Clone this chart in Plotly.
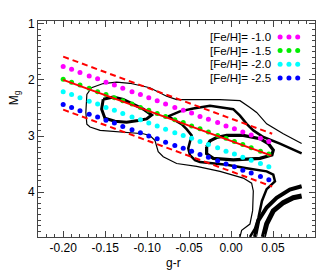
import plotly.graph_objects as go

# ---- data ----
GR_DOTS = [-0.200, -0.190, -0.180, -0.169, -0.159, -0.149, -0.139, -0.129, -0.118, -0.108,
           -0.098, -0.088, -0.078, -0.067, -0.057, -0.047, -0.037, -0.027, -0.016, -0.006,
           0.004, 0.014, 0.024, 0.035, 0.045]
MG_FEH_10 = [1.76, 1.81, 1.87, 1.93, 1.98, 2.04, 2.09, 2.15, 2.21, 2.26, 2.32, 2.37, 2.43,
             2.49, 2.54, 2.59, 2.65, 2.70, 2.76, 2.82, 2.87, 2.93, 2.98, 3.04, 3.10]
MG_FEH_15 = [1.99, 2.04, 2.09, 2.15, 2.21, 2.26, 2.32, 2.37, 2.43, 2.49, 2.54, 2.60, 2.65,
             2.71, 2.76, 2.82, 2.87, 2.93, 2.99, 3.04, 3.10, 3.15, 3.21, 3.27, 3.32]
MG_FEH_20 = [2.21, 2.26, 2.32, 2.38, 2.43, 2.49, 2.54, 2.60, 2.66, 2.71, 2.77, 2.82, 2.88,
             2.94, 2.99, 3.04, 3.10, 3.15, 3.21, 3.27, 3.32, 3.38, 3.43, 3.49, 3.55]
MG_FEH_25 = [2.44, 2.49, 2.55, 2.61, 2.66, 2.72, 2.77, 2.83, 2.89, 2.94, 3.00, 3.05, 3.11,
             3.17, 3.22, 3.27, 3.33, 3.38, 3.44, 3.50, 3.55, 3.61, 3.66, 3.72, 3.78]
SERIES_LABELS = ["[Fe/H]= -1.0", "[Fe/H]= -1.5", "[Fe/H]= -2.0", "[Fe/H]= -2.5"]

FIT_X = [-0.200, 0.048]
FIT_Y = [2.00, 3.35]
FIT_UP_X = [-0.200, 0.049]
FIT_UP_Y = [1.585, 2.96]
FIT_LO_X = [-0.200, 0.049]
FIT_LO_Y = [2.53, 3.90]

# contour lines (g-r, M_g)
C_OUTER_X = [0.0841, 0.0622, 0.0424, 0.0305, 0.0225, 0.0106, -0.0133, -0.041, -0.0648, -0.0768,
             -0.0967, -0.1205, -0.1364, -0.1523, -0.1662, -0.1718, -0.173, -0.1718, -0.168, -0.156,
             -0.1285, -0.1046, -0.0967, -0.0907, -0.0868, -0.0808, -0.0648, -0.041, -0.0132, 0.0145,
             0.0245, 0.0265, 0.0257, 0.0225, 0.0126, 0.0106]
C_OUTER_Y = [3.135, 2.96, 2.784, 2.58, 2.49, 2.37, 2.35, 2.35, 2.35, 2.29,
             2.14, 2.06, 2.04, 2.065, 2.14, 2.26, 2.58, 2.79, 2.84, 2.90,
             2.93, 2.96, 2.99, 3.075, 3.28, 3.37, 3.49, 3.54, 3.63, 3.75,
             3.84, 3.98, 4.33, 4.57, 4.68, 4.80]
C_MID_X = [0.0841, 0.0582, 0.0384, 0.0265, 0.0186, 0.0106, 0.0026, -0.0251, -0.045, -0.0609,
           -0.0749, -0.0669, -0.0589, -0.053, -0.047, -0.049, -0.051, -0.049, -0.043, -0.037,
           -0.0052, 0.0186, 0.0424, 0.0503, 0.0523, 0.0424, 0.0368, 0.0327, 0.0285, 0.0225]
C_MID_Y = [3.31, 3.135, 3.018, 2.90, 2.784, 2.637, 2.521, 2.461, 2.509, 2.561,
           2.649, 2.72, 2.79, 2.877, 2.988, 3.105, 3.22, 3.34, 3.43, 3.465,
           3.514, 3.574, 3.63, 3.69, 3.807, 3.947, 4.158, 4.45, 4.65, 4.80]
C_LOOP1_X = [-0.1523, -0.1404, -0.1285, -0.1166, -0.1046, -0.0946, -0.1006, -0.1106, -0.1244,
             -0.1384, -0.1503, -0.1542, -0.1523]
C_LOOP1_Y = [2.346, 2.304, 2.346, 2.433, 2.521, 2.626, 2.696, 2.725, 2.754, 2.737, 2.684, 2.521, 2.346]
C_LOOP2_X = [-0.0291, -0.0251, -0.0172, -0.0052, 0.0145, 0.0344, 0.0443, 0.0503, 0.0487, 0.0344,
             0.0026, -0.0212, -0.0291, -0.0291]
C_LOOP2_Y = [3.193, 3.088, 3.026, 2.988, 2.988, 3.047, 3.135, 3.251, 3.339, 3.398,
             3.426, 3.398, 3.316, 3.193]
C_MS1_X = [0.0285, 0.0324, 0.0424, 0.0543, 0.070, 0.0841]
C_MS1_Y = [4.80, 4.51, 4.275, 4.10, 3.953, 3.895]
C_MS2_X = [0.0384, 0.0424, 0.0503, 0.0622, 0.0741, 0.0841]
C_MS2_Y = [4.80, 4.567, 4.333, 4.188, 4.10, 4.07]

COLORS = ["#ff00ff", "#00ee00", "#00ffff", "#0000ff"]
FONT = dict(family="Liberation Sans, Arial", size=12, color="black")
LEG_FONT = dict(family="Liberation Sans, Arial", size=11.5, color="black")

fig = go.Figure()

def line(x, y, w, color="black", dash="solid"):
    fig.add_trace(go.Scatter(x=x, y=y, mode="lines", line=dict(color=color, width=w, dash=dash),
                             showlegend=False, hoverinfo="skip"))

line(C_OUTER_X, C_OUTER_Y, 1.2)
line(C_MID_X, C_MID_Y, 2.5)
line(C_LOOP1_X, C_LOOP1_Y, 3)
line(C_LOOP2_X, C_LOOP2_Y, 3.2)
line(C_MS1_X, C_MS1_Y, 4)
line(C_MS2_X, C_MS2_Y, 5)

for ys, c in zip([MG_FEH_10, MG_FEH_15, MG_FEH_20, MG_FEH_25], COLORS):
    fig.add_trace(go.Scatter(x=GR_DOTS, y=ys, mode="markers",
                             marker=dict(color=c, size=5, line=dict(width=0)), showlegend=False))

line(FIT_X, FIT_Y, 2, "#ff0000")
line(FIT_UP_X, FIT_UP_Y, 2, "#ff0000", "6px,4px")
line(FIT_LO_X, FIT_LO_Y, 2, "#ff0000", "6px,4px")

# custom legend (text left, three dots right)
LEG_Y = [0.926, 0.863, 0.800, 0.736]
LEG_DOT_X = [0.874, 0.906, 0.9375]
for lab, c, ly in zip(SERIES_LABELS, COLORS, LEG_Y):
    fig.add_annotation(xref="paper", yref="paper", x=0.850, y=ly, text=lab, showarrow=False,
                       xanchor="right", yanchor="middle", font=LEG_FONT)
    fig.add_trace(go.Scatter(x=LEG_DOT_X, y=[ly] * 3, xaxis="x2", yaxis="y2", mode="markers",
                             marker=dict(color=c, size=5, line=dict(width=0)), showlegend=False))

fig.add_annotation(xref="paper", yref="paper", x=0.49, y=-0.12, text="g-r", showarrow=False,
                   xanchor="center", yanchor="middle", font=FONT)
fig.add_annotation(xref="paper", yref="paper", x=-0.085, y=0.645, text="M<sub>g</sub>",
                   showarrow=False, textangle=-90, xanchor="center", yanchor="middle", font=FONT)

axis_common = dict(showline=True, linecolor="#444", linewidth=1, mirror="allticks",
                   ticks="inside", ticklen=6, tickcolor="#444", tickwidth=1,
                   showgrid=False, zeroline=False, tickfont=FONT)

# the page body adds an 8px offset; the figure is sized so the plot box lands where the
# reference puts it inside the 327x273 window
fig.update_layout(
    width=319, height=265,
    margin=dict(l=30, r=12, t=9, b=36),
    paper_bgcolor="white", plot_bgcolor="white",
    xaxis=dict(range=[-0.23, 0.10], tickvals=[-0.20, -0.15, -0.10, -0.05, 0.00, 0.05, 0.10],
               ticktext=["-0.20", "-0.15", "-0.10", "-0.05", "0.00", "0.05", "0.10"],
               minor=dict(dtick=0.01, tick0=0, ticks="inside", ticklen=3, tickcolor="#444"),
               **axis_common),
    yaxis=dict(range=[4.8, 0.95], tickvals=[1, 2, 3, 4], ticktext=["1", "2", "3", "4"],
               minor=dict(dtick=0.1, tick0=0, ticks="inside", ticklen=3, tickcolor="#444"),
               **axis_common),
    xaxis2=dict(overlaying="x", range=[0, 1], visible=False),
    yaxis2=dict(overlaying="y", range=[0, 1], visible=False),
    showlegend=False,
)

fig.write_html("out.html")
